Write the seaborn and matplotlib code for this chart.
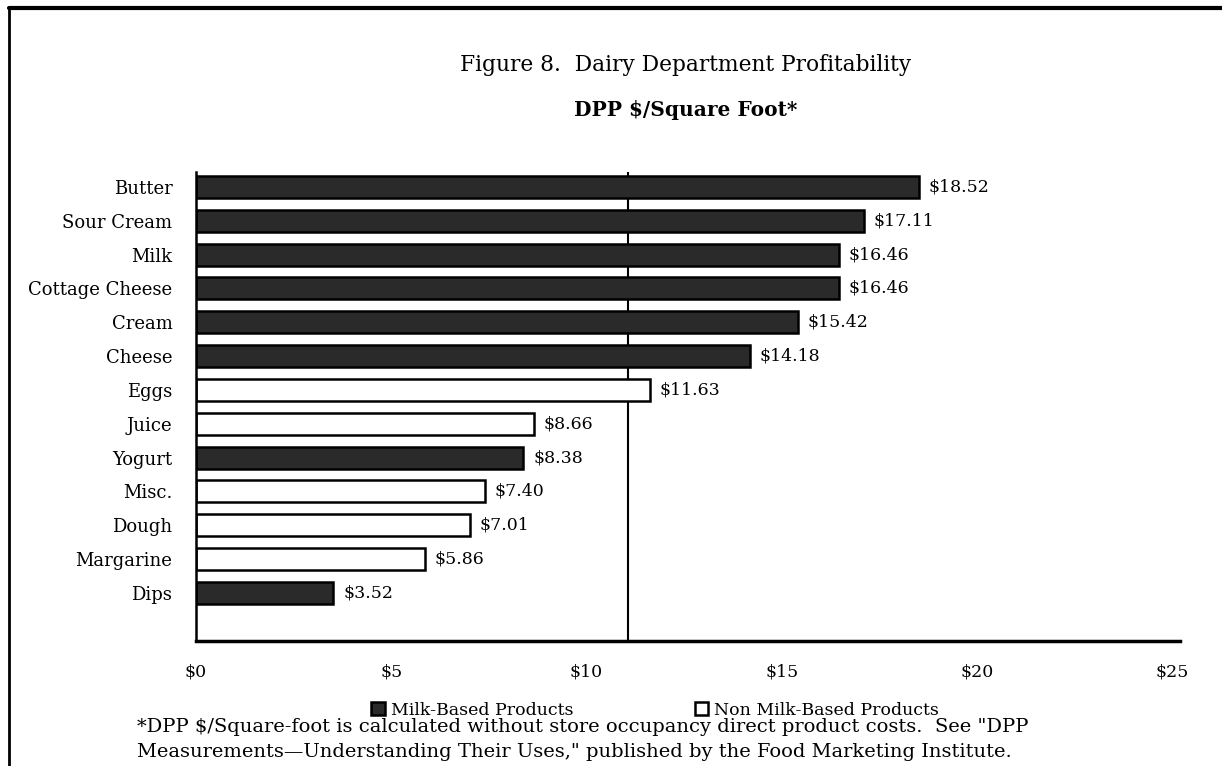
import matplotlib
matplotlib.use('Agg')
import matplotlib.pyplot as plt
import seaborn as sns
import pandas as pd
from matplotlib.patches import Patch
from matplotlib.lines import Line2D

# data
products = ['Butter', 'Sour Cream', 'Milk', 'Cottage Cheese', 'Cream', 'Cheese', 'Eggs',
            'Juice', 'Yogurt', 'Misc.', 'Dough', 'Margarine', 'Dips']
dpp = [18.52, 17.11, 16.46, 16.46, 15.42, 14.18, 11.63, 8.66, 8.38, 7.40, 7.01, 5.86, 3.52]
milk_based = [True, True, True, True, True, True, False, False, True, False, False, False, True]
ref_line = 11.06
xticks = [0, 5, 10, 15, 20, 25]

df = pd.DataFrame({'product': products, 'dpp': dpp,
                   'type': ['Milk-Based Products' if m else 'Non Milk-Based Products' for m in milk_based]})

sns.set_style('white')
plt.rcParams['font.family'] = ['DejaVu Serif']
plt.rcParams['text.color'] = 'black'
plt.rcParams['xtick.color'] = 'black'
plt.rcParams['ytick.color'] = 'black'

fig = plt.figure(figsize=(12.22, 7.66), dpi=100)
ax = fig.add_axes([0.1604, 0.1632, 0.8053, 0.6123])

pal = {'Milk-Based Products': '#2a2a2a', 'Non Milk-Based Products': 'white'}
sns.barplot(data=df, y='product', x='dpp', hue='type', palette=pal, dodge=False,
            order=products, width=0.65, edgecolor='black', linewidth=1.8,
            legend=False, ax=ax, saturation=1)

for i, v in enumerate(dpp):
    ax.text(v + 0.25, i, f'${v:.2f}', va='center', ha='left', fontsize=12.5)

ax.axvline(ref_line, color='black', lw=1.5, zorder=0)

ax.set_xlim(0, 25.2)
ax.set_ylim(len(products) - 1 + 1.42, -0.44)
ax.set_xticks(xticks)
ax.set_xticklabels([f'${t}' for t in xticks], fontsize=12.5)
ax.tick_params(axis='x', length=0, pad=16)
ax.tick_params(axis='y', length=0, pad=17, labelsize=13)
ax.set_xlabel('')
ax.set_ylabel('')
for s in ['top', 'right']:
    ax.spines[s].set_visible(False)
ax.spines['left'].set_linewidth(1.8)
ax.spines['bottom'].set_linewidth(2.5)
ax.spines['left'].set_color('black')
ax.spines['bottom'].set_color('black')

fig.text(0.561, 0.915, 'Figure 8.  Dairy Department Profitability', ha='center', va='center', fontsize=15.7)
fig.text(0.561, 0.857, 'DPP $/Square Foot*', ha='center', va='center', fontsize=14.5, fontweight='bold')

handles = [Patch(facecolor=pal[k], edgecolor='black', linewidth=1.8, label=k) for k in pal]
fig.legend(handles=handles, loc='center', bbox_to_anchor=(0.536, 0.073), ncol=2, frameon=False,
           fontsize=12.5, handlelength=0.8, handleheight=0.8, handletextpad=0.3, columnspacing=7.0)

fig.text(0.112, 0.051, '*DPP $/Square-foot is calculated without store occupancy direct product costs.  See "DPP',
         ha='left', va='center', fontsize=14)
fig.text(0.112, 0.018, 'Measurements\u2014Understanding Their Uses," published by the Food Marketing Institute.',
         ha='left', va='center', fontsize=14)

# page border
fig.add_artist(Line2D([0.007, 1.0], [0.99, 0.99], color='black', lw=3, transform=fig.transFigure))
fig.add_artist(Line2D([0.007, 0.007], [0.0, 0.99], color='black', lw=2, transform=fig.transFigure))

fig.savefig('out.png', dpi=100)
